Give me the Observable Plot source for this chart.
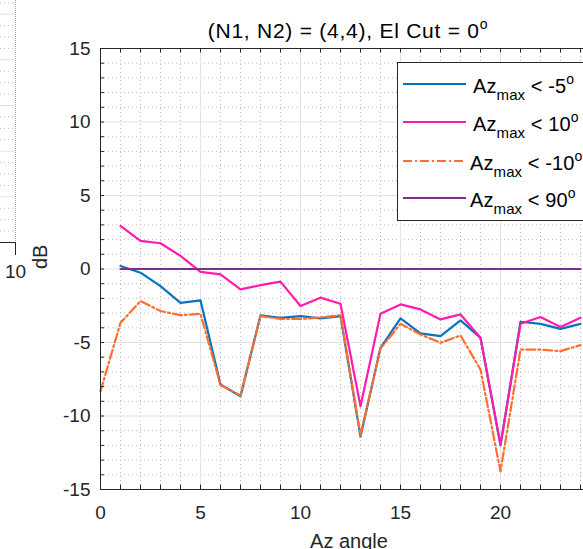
<!DOCTYPE html>
<html><head><meta charset="utf-8">
<script src="https://cdn.jsdelivr.net/npm/d3@7"></script>
<script src="https://cdn.jsdelivr.net/npm/@observablehq/plot@0.6"></script>
<style>
body{margin:0;background:#fff;overflow:hidden}
#wrap{position:relative;width:583px;height:549px;overflow:hidden;font-family:"Liberation Sans",Arial,sans-serif}
#wrap svg{position:absolute;left:0;top:0}
</style></head><body><div id="wrap"></div>
<script>
// ---- data ----
const azAll = [0,1,2,3,4,5,6,7,8,9,10,11,12,13,14,15,16,17,18,19,20,21,22,23,24];
const az1   = [1,2,3,4,5,6,7,8,9,10,11,12,13,14,15,16,17,18,19,20,21,22,23,24];
const azMaxLt5n  = [0.2,-0.25,-1.16,-2.3,-2.14,-7.86,-8.66,-3.16,-3.32,-3.2,-3.36,-3.2,-11.4,-5.36,-3.36,-4.38,-4.57,-3.5,-4.68,-12.0,-3.59,-3.73,-4.07,-3.73];
const azMaxLt10  = [2.93,1.91,1.75,0.89,-0.2,-0.36,-1.39,-1.1,-0.86,-2.52,-1.95,-2.36,-9.34,-3.04,-2.41,-2.75,-3.43,-3.09,-4.68,-11.95,-3.73,-3.27,-3.95,-3.32];
const azMaxLt10n = [-8.32,-3.66,-2.18,-2.86,-3.14,-3.05,-7.9,-8.6,-3.2,-3.4,-3.4,-3.3,-3.14,-11.3,-5.42,-3.73,-4.45,-5.02,-4.52,-6.84,-13.77,-5.48,-5.48,-5.59,-5.18];
const azMaxLt90  = [0,0,0,0,0,0,0,0,0,0,0,0,0,0,0,0,0,0,0,0,0,0,0,0];
const legendLabels = ["< -5", "< 10", "< -10", "< 90"];
const xTicks = [0,5,10,15,20];
const yTicks = [-15,-10,-5,0,5,10,15];
const titleText = "(N1, N2) = (4,4), El Cut = 0";

const colors = ["#0a72bd", "#ff1cae", "#ff6e30", "#7e2f8e"];
const dashes = [null, null, "9,3,2,3", null];
const axisCol = "#262626";

const xMinorAll = d3.range(0, 25, 1);
const yMinorAll = d3.range(-15, 16, 1);

const rows = (xs, ys) => xs.map((x,i)=>({x, y: ys[i]}));
const series = [rows(az1, azMaxLt5n), rows(az1, azMaxLt10), rows(azAll, azMaxLt10n), rows(az1, azMaxLt90)];

const font = "Liberation Sans, Arial, sans-serif";

const main = Plot.plot({
  width: 583, height: 549,
  marginLeft: 100, marginRight: 0, marginTop: 48, marginBottom: 60,
  style: {fontFamily: font, color: axisCol, background: "transparent", overflow: "visible"},
  x: {domain: [0, 24.15]},
  y: {domain: [-15, 15]},
  marks: [
    Plot.ruleX(xMinorAll.filter(d=>d%5), {stroke: "#bdbdbd", strokeDasharray: "1,3"}),
    Plot.ruleY(yMinorAll.filter(d=>d%5), {stroke: "#bdbdbd", strokeDasharray: "1,3"}),
    Plot.ruleX(xTicks, {stroke: "#e2e2e2"}),
    Plot.ruleY(yTicks, {stroke: "#e2e2e2"}),
    ...series.map((s,i)=>Plot.line(s, {x:"x", y:"y", stroke: colors[i], strokeWidth: 2.2, strokeDasharray: dashes[i]})),
    Plot.ruleY([-15, 15], {stroke: axisCol}),
    Plot.ruleX([0], {stroke: axisCol}),
    Plot.ruleX(xMinorAll, {x: d=>d, y1: -15, y2: -14.7, stroke: axisCol}),
    Plot.ruleX(xMinorAll, {x: d=>d, y1: 14.7, y2: 15, stroke: axisCol}),
    Plot.ruleY(yMinorAll, {y: d=>d, x1: 0, x2: 0.2, stroke: axisCol}),
    Plot.axisX({ticks: xTicks, tickSize: 0, tickPadding: 16, fontSize: 19, tickFormat: d=>String(d), label: null}),
    Plot.axisY({ticks: yTicks, tickSize: 0, tickPadding: 10, fontSize: 19, tickFormat: d=>String(d), label: null}),
    Plot.text(["dB"], {frameAnchor: "left", dx: -60, rotate: -90, fontSize: 20, fill: axisCol}),
    Plot.text(["Az angle"], {frameAnchor: "bottom", dx: 7, dy: 44, lineAnchor: "top", fontSize: 20, fill: axisCol, style: "letter-spacing:1px"})
  ]
});

// neighbouring (cropped) subplot on the left
const sideMajor = [0,1,2,3,4,5];
const sideMinor = d3.range(0, 5.3, 0.25).filter(d=>d%1);
const side = Plot.plot({
  width: 60, height: 290,
  marginLeft: 0, marginRight: 45, marginTop: 0, marginBottom: 48,
  style: {fontFamily: font, color: axisCol, background: "transparent", overflow: "visible"},
  x: {domain: [9, 10], axis: null},
  y: {domain: [0, 5.3], axis: null},
  marks: [
    Plot.ruleY(sideMinor, {stroke: "#bdbdbd", strokeDasharray: "1,3"}),
    Plot.ruleY(sideMajor, {stroke: "#e2e2e2"}),
    Plot.ruleX([10], {stroke: "#a8a8a8", strokeDasharray: "1,1"}),
    Plot.ruleY([0], {stroke: axisCol}),
    Plot.axisX({ticks: [10], tickSize: 13, tickPadding: 9, fontSize: 19, label: null, tickFormat: d=>String(d)})
  ]
});

const wrap = document.getElementById("wrap");
wrap.appendChild(side);
wrap.appendChild(main);

const svg = d3.select(main);
// title
const t = svg.append("text").attr("x", 348).attr("y", 38).attr("text-anchor", "middle")
  .attr("font-family", font).attr("font-size", 21).attr("fill", "#000")
  .attr("letter-spacing", "0.75px");
t.append("tspan").text(titleText);
t.append("tspan").attr("font-size", 14).attr("dy", -9).text("o");

// legend
const lg = svg.append("g").attr("text-anchor", "start");
lg.append("rect").attr("x", 397.5).attr("y", 62.5).attr("width", 200).attr("height", 158)
  .attr("fill", "#fff").attr("stroke", axisCol);
const rowY = [84, 122, 161, 198];
const textX = [473, 473, 470, 470];
legendLabels.forEach((lab, i) => {
  lg.append("line").attr("x1", 403).attr("x2", 466).attr("y1", rowY[i]).attr("y2", rowY[i])
    .attr("stroke", colors[i]).attr("stroke-width", 2.2).attr("stroke-dasharray", dashes[i]);
  const tx = lg.append("text").attr("x", textX[i]).attr("y", rowY[i] + 9)
    .attr("text-anchor", "start")
    .attr("font-family", font).attr("font-size", 20).attr("fill", "#000")
    .attr("letter-spacing", "0.1px");
  tx.append("tspan").text("Az");
  tx.append("tspan").attr("font-size", 15).attr("dy", 7).text("max");
  tx.append("tspan").attr("dy", -7).text(" " + lab);
  tx.append("tspan").attr("font-size", 14).attr("dy", -9).text("o");
});
</script></body></html>
